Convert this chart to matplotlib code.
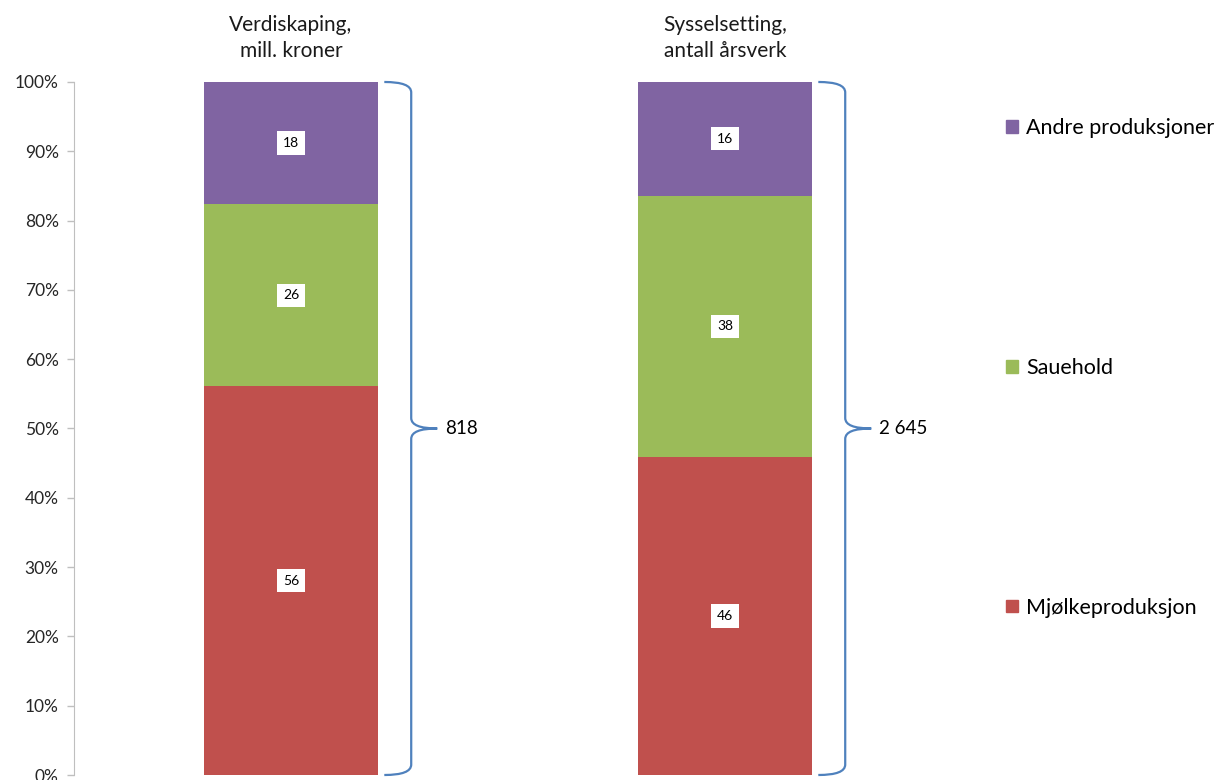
import matplotlib
matplotlib.use("Agg")
import matplotlib.pyplot as plt
import numpy as np
from matplotlib.path import Path
from matplotlib.patches import PathPatch, Patch
from matplotlib.ticker import PercentFormatter

plt.rcParams["font.family"] = ["Lato", "DejaVu Sans"]

# data
titles = ["Verdiskaping,\nmill. kroner", "Sysselsetting,\nantall årsverk"]
series = ["Mjølkeproduksjon", "Sauehold", "Andre produksjoner"]
mjolk = [56.1, 45.9]
sau = [26.3, 37.7]
andre = [17.6, 16.4]
totals = ["818", "2 645"]
colors = ["#C0504D", "#9BBB59", "#8064A2"]
brace_color = "#4F81BD"

fig = plt.figure(figsize=(12.21, 7.80), dpi=100)
ax = fig.add_axes([0.0606, 0.0064, 0.7109, 0.8885])

x = np.arange(len(titles))
width = 0.4
bottom = np.zeros(len(titles))
for vals, col in zip([mjolk, sau, andre], colors):
    vals = np.array(vals)
    ax.bar(x, vals, width, bottom=bottom, color=col, edgecolor="none")
    for xi, b, v in zip(x, bottom, vals):
        ax.text(xi, b + v / 2, f"{round(v):d}", ha="center", va="center",
                fontsize=10, color="#000000",
                bbox=dict(boxstyle="square,pad=0.4", fc="white", ec="none"))
    bottom += vals

# titles above bars
for xi, t in zip(x, titles):
    ax.text(xi, 106.4, t, ha="center", va="center", fontsize=15,
            color="#1a1a1a", linespacing=1.38, clip_on=False)

# curly braces with totals
for xi, tot in zip(x, totals):
    x0 = xi + width / 2 + 0.015
    xv = xi + width / 2 + 0.077
    xt = xi + width / 2 + 0.137
    verts = [
        (x0, 100), (xv, 100), (xv, 98.5),
        (xv, 51.5),
        (xv, 50), (xt, 50),
        (xv, 50), (xv, 48.5),
        (xv, 1.5),
        (xv, 0), (x0, 0),
    ]
    codes = [Path.MOVETO, Path.CURVE3, Path.CURVE3,
             Path.LINETO,
             Path.CURVE3, Path.CURVE3,
             Path.CURVE3, Path.CURVE3,
             Path.LINETO,
             Path.CURVE3, Path.CURVE3]
    ax.add_patch(PathPatch(Path(verts, codes), fc="none", ec=brace_color,
                           lw=1.6, clip_on=False))
    ax.text(xt + 0.017, 50, tot, ha="left", va="center", fontsize=13.5,
            color="#000000")

ax.set_xlim(-0.5, 1.5)
ax.set_ylim(0, 100)
ax.set_yticks(np.arange(0, 101, 10))
ax.yaxis.set_major_formatter(PercentFormatter(decimals=0))
ax.tick_params(axis="y", labelsize=12.5, colors="#BFBFBF", labelcolor="#262626",
               length=5, width=1, direction="out", pad=6)
ax.set_xticks([])
for side in ["top", "right", "bottom"]:
    ax.spines[side].set_visible(False)
ax.spines["left"].set_color("#BFBFBF")

handles = [Patch(color=c) for c in colors]
leg = fig.legend(handles[::-1], series[::-1], loc="upper left",
                 bbox_to_anchor=(0.808, 0.873), frameon=False, fontsize=15.5,
                 labelspacing=10.2, handlelength=0.55, handleheight=0.55,
                 handletextpad=0.4)

fig.savefig("out.png", dpi=100)
